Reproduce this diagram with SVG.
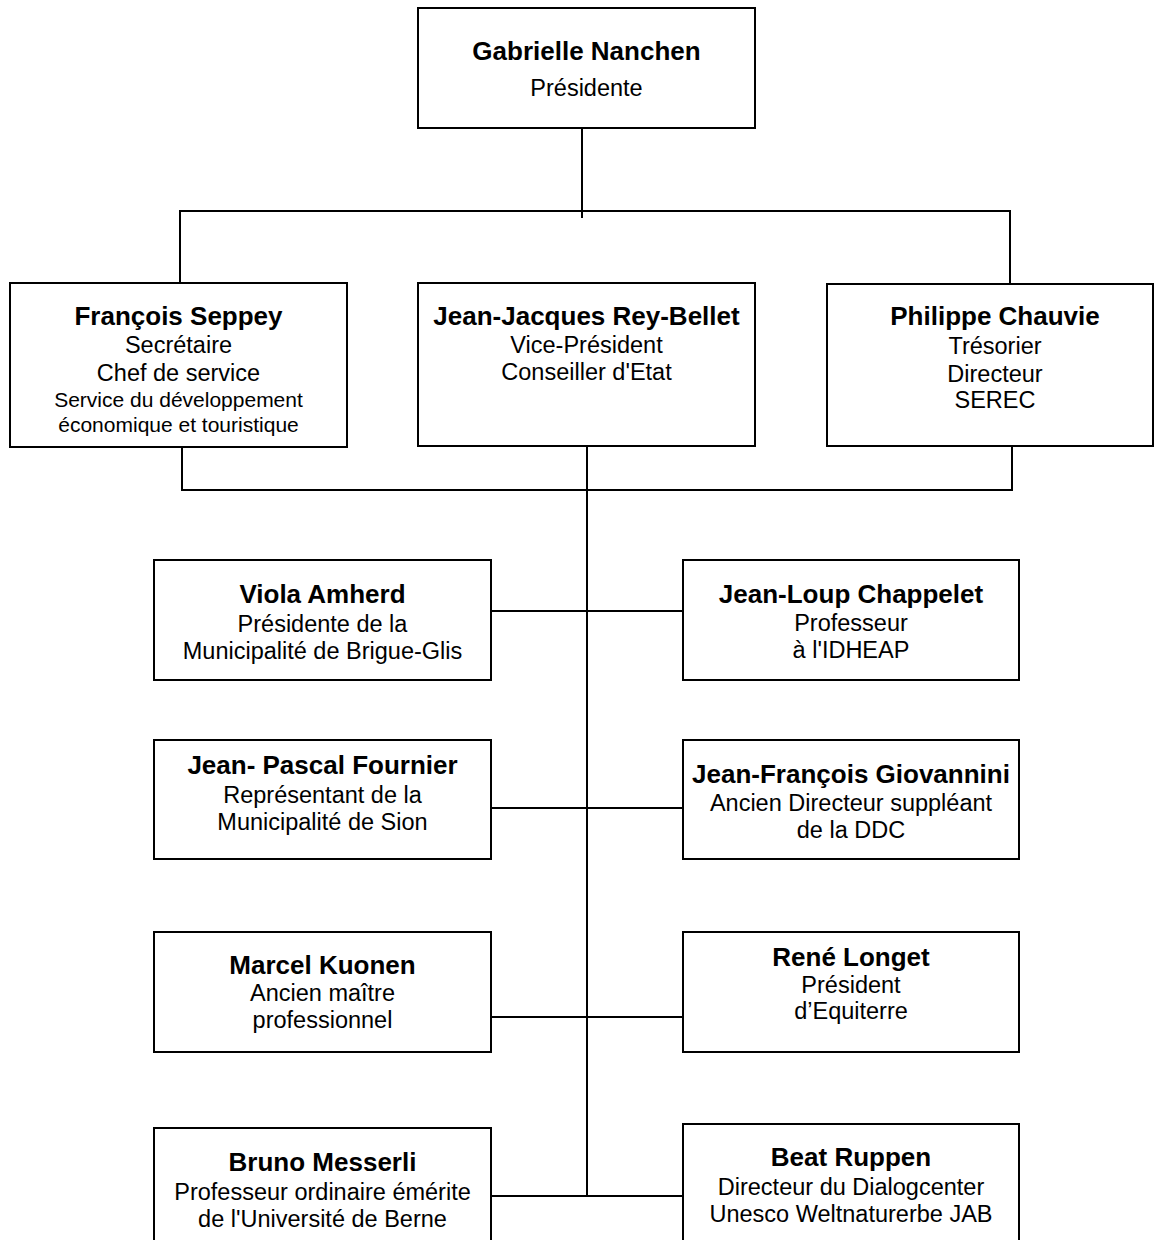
<svg xmlns="http://www.w3.org/2000/svg" width="1155" height="1240" viewBox="0 0 1155 1240">
<style>
rect{fill:#fff;stroke:#000;stroke-width:2}
#connectors path{fill:none;stroke:#000;stroke-width:2}
text{font-family:"Liberation Sans",Arial,sans-serif;text-anchor:middle;fill:#000}
.n{font-weight:bold;font-size:26px}
.r{font-size:23.5px}
.s{font-size:21px}
</style>
<rect x="0" y="0" width="1155" height="1240" style="stroke:none"/>
<g id="connectors">
<path d="M582,128 V218"/>
<path d="M180,283 V211 H1010 V284"/>
<path d="M182,447 V490 H1012 V446"/>
<path d="M587,446 V1196"/>
<path d="M491,611 H683"/>
<path d="M491,808 H683"/>
<path d="M491,1017 H683"/>
<path d="M491,1196 H683"/>
</g>
<g id="nanchen">
<rect x="418" y="8" width="337" height="120"/>
<text class="n" x="586.5" y="60">Gabrielle Nanchen</text>
<text class="r" x="586.5" y="96">Présidente</text>
</g>
<g id="seppey">
<rect x="10" y="283" width="337" height="164"/>
<text class="n" x="178.5" y="325">François Seppey</text>
<text class="r" x="178.5" y="353">Secrétaire</text>
<text class="r" x="178.5" y="381">Chef de service</text>
<text class="s" x="178.5" y="407">Service du développement</text>
<text class="s" x="178.5" y="432">économique et touristique</text>
</g>
<g id="reybellet">
<rect x="418" y="283" width="337" height="163"/>
<text class="n" x="586.5" y="325">Jean-Jacques Rey-Bellet</text>
<text class="r" x="586.5" y="353">Vice-Président</text>
<text class="r" x="586.5" y="380">Conseiller d'Etat</text>
</g>
<g id="chauvie">
<rect x="827" y="284" width="326" height="162"/>
<text class="n" x="995" y="325">Philippe Chauvie</text>
<text class="r" x="995" y="354">Trésorier</text>
<text class="r" x="995" y="382">Directeur</text>
<text class="r" x="995" y="408">SEREC</text>
</g>
<g id="amherd">
<rect x="154" y="560" width="337" height="120"/>
<text class="n" x="322.5" y="603">Viola Amherd</text>
<text class="r" x="322.5" y="632">Présidente de la</text>
<text class="r" x="322.5" y="659">Municipalité de Brigue-Glis</text>
</g>
<g id="chappelet">
<rect x="683" y="560" width="336" height="120"/>
<text class="n" x="851" y="603">Jean-Loup Chappelet</text>
<text class="r" x="851" y="631">Professeur</text>
<text class="r" x="851" y="658">à l'IDHEAP</text>
</g>
<g id="fournier">
<rect x="154" y="740" width="337" height="119"/>
<text class="n" x="322.5" y="774">Jean- Pascal Fournier</text>
<text class="r" x="322.5" y="803">Représentant de la</text>
<text class="r" x="322.5" y="830">Municipalité de Sion</text>
</g>
<g id="giovannini">
<rect x="683" y="740" width="336" height="119"/>
<text class="n" x="851" y="783">Jean-François Giovannini</text>
<text class="r" x="851" y="811">Ancien Directeur suppléant</text>
<text class="r" x="851" y="838">de la DDC</text>
</g>
<g id="kuonen">
<rect x="154" y="932" width="337" height="120"/>
<text class="n" x="322.5" y="974">Marcel Kuonen</text>
<text class="r" x="322.5" y="1001">Ancien maître</text>
<text class="r" x="322.5" y="1028">professionnel</text>
</g>
<g id="longet">
<rect x="683" y="932" width="336" height="120"/>
<text class="n" x="851" y="966">René Longet</text>
<text class="r" x="851" y="993">Président</text>
<text class="r" x="851" y="1019">d’Equiterre</text>
</g>
<g id="messerli">
<rect x="154" y="1128" width="337" height="130"/>
<text class="n" x="322.5" y="1171">Bruno Messerli</text>
<text class="r" x="322.5" y="1200">Professeur ordinaire émérite</text>
<text class="r" x="322.5" y="1227">de l'Université de Berne</text>
</g>
<g id="ruppen">
<rect x="683" y="1124" width="336" height="130"/>
<text class="n" x="851" y="1166">Beat Ruppen</text>
<text class="r" x="851" y="1195">Directeur du Dialogcenter</text>
<text class="r" x="851" y="1222">Unesco Weltnaturerbe JAB</text>
</g>
</svg>
